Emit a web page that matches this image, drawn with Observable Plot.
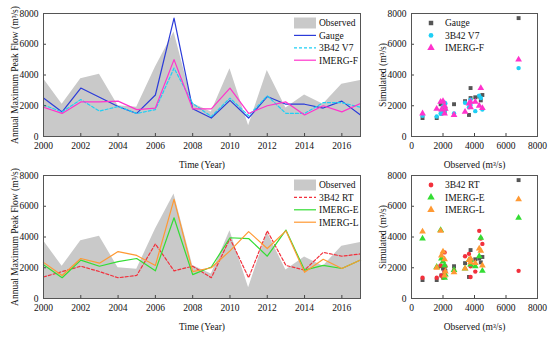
<!DOCTYPE html>
<html><head><meta charset="utf-8">
<script src="https://cdn.jsdelivr.net/npm/d3@7"></script>
<script src="https://cdn.jsdelivr.net/npm/@observablehq/plot@0.6"></script>
<style>
body{margin:0;background:#fff;}
#wrap{position:relative;width:550px;height:343px;font-family:"Liberation Serif",serif;overflow:hidden;}
.panel{position:absolute;}
.legend{position:absolute;overflow:visible;}
</style></head><body><div id="wrap"></div>
<script>
// ---- data ----
const years    = [2000,2001,2002,2003,2004,2005,2006,2007,2008,2009,2010,2011,2012,2013,2014,2015,2016,2017];
const observed = [3750,2100,3750,4050,2000,1900,4500,6800,2150,1600,4400,700,4300,1850,2700,2100,3400,3650];
const gauge    = [2500,1600,3150,2550,1950,1500,2700,7700,1800,1200,2350,1200,2600,2100,2100,1850,2300,1400];
const v7       = [2050,1600,2400,1650,1950,1500,1750,4450,2150,1300,2500,1350,2650,1500,1500,2200,2200,1900];
const imergF   = [1900,1500,2250,2250,2300,1750,1850,5000,1800,1800,3150,1500,2000,2250,1400,2000,1600,2150];
const rt       = [1400,1750,2100,1750,1350,1500,3550,1800,2100,1350,3900,1350,4400,2150,1850,3000,2750,2900];
const imergE   = [2200,1350,2500,2100,2400,2600,1800,5250,1550,2050,3950,3900,2750,4450,1850,2150,1950,2500];
const imergL   = [2350,1500,2600,2300,3050,2800,2150,6450,1750,2000,3100,4350,3250,4400,1700,2550,1950,2500];

const yearTicks = [2000,2002,2004,2006,2008,2010,2012,2014,2016];
const flowTicks = [0,2000,4000,6000,8000];

const topSeries = [
  {name:"Gauge",   values:gauge,  color:"#2b3bd9", dash:null,  symbol:"square",   mcolor:"#555555"},
  {name:"3B42 V7", values:v7,     color:"#1fcff5", dash:"3,2", symbol:"circle",   mcolor:"#1fcff5"},
  {name:"IMERG-F", values:imergF, color:"#ff33cc", dash:null,  symbol:"triangle", mcolor:"#ff33cc"}
];
const botSeries = [
  {name:"3B42 RT", values:rt,     color:"#f2303c", dash:"3,2", symbol:"circle",   mcolor:"#f2303c"},
  {name:"IMERG-E", values:imergE, color:"#33dd33", dash:null,  symbol:"triangle", mcolor:"#33dd33"},
  {name:"IMERG-L", values:imergL, color:"#ff9933", dash:null,  symbol:"triangle", mcolor:"#ff9933"}
];

const FONT = "Liberation Serif";
const FS = "9.5px";
const TXT = "#111";
const wrap = document.getElementById("wrap");

function place(el, left, top) {
  const d = document.createElement("div");
  d.className = "panel";
  d.style.left = left + "px";
  d.style.top = top + "px";
  d.appendChild(el);
  wrap.appendChild(d);
}

const W1 = 365, H = 170, mL1 = 43, mR1 = 5, mT = 13, mB = 34;
const W2 = 185, mL2 = 46, mR2 = 13;

function linePanel(series) {
  const pw = W1 - mL1 - mR1, ph = H - mT - mB;
  const obs = years.map((y,i)=>({year:y, v:observed[i]}));
  const marks = [
    Plot.areaY(obs, {x:"year", y:"v", fill:"#c9c9c9"}),
    ...series.map(s => Plot.lineY(years.map((y,i)=>({year:y, v:s.values[i]})),
        {x:"year", y:"v", stroke:s.color, strokeWidth:1.2, strokeDasharray:s.dash ?? undefined})),
    Plot.tickX(yearTicks, {x:d=>d, insetTop:ph-3, stroke:"#444"}),
    Plot.tickY(flowTicks, {y:d=>d, insetRight:pw-3, stroke:"#444"}),
    Plot.frame({stroke:"#555"}),
    Plot.axisX({ticks:yearTicks, tickSize:0, tickPadding:6, tickFormat:d=>String(d),
      label:"Time (Year)", labelAnchor:"center", labelOffset:31, labelArrow:false}),
    Plot.axisY({ticks:flowTicks, tickSize:0, tickPadding:5, tickFormat:d=>String(d),
      label:"Annual Maximum Peak Flow (m³/s)", labelAnchor:"center", labelOffset:32, labelArrow:false})
  ];
  return Plot.plot({
    width:W1, height:H, marginLeft:mL1, marginRight:mR1, marginTop:mT, marginBottom:mB,
    x:{domain:[2000,2017]}, y:{domain:[0,8000]},
    style:{fontFamily:FONT, fontSize:FS, color:TXT, background:"transparent"},
    marks
  });
}

function scatterPanel(series) {
  const pw = W2 - mL2 - mR2, ph = H - mT - mB;
  const marks = [
    Plot.tickX(flowTicks, {x:d=>d, insetTop:ph-3, stroke:"#444"}),
    Plot.tickY(flowTicks, {y:d=>d, insetRight:pw-3, stroke:"#444"}),
    ...series.map(s => Plot.dot(observed.map((o,i)=>({o, v:s.values[i]})),
        {x:"o", y:"v", symbol:()=>s.symbol, r:s.symbol==="triangle"?2.5:2.2, fill:s.mcolor, stroke:"none"})),
    Plot.frame({stroke:"#555"}),
    Plot.axisX({ticks:flowTicks, tickSize:0, tickPadding:6, tickFormat:d=>String(d),
      label:"Observed (m³/s)", labelAnchor:"center", labelOffset:31, labelArrow:false}),
    Plot.axisY({ticks:flowTicks, tickSize:0, tickPadding:5, tickFormat:d=>String(d),
      label:"Simulated (m³/s)", labelAnchor:"center", labelOffset:32, labelArrow:false})
  ];
  return Plot.plot({
    width:W2, height:H, marginLeft:mL2, marginRight:mR2, marginTop:mT, marginBottom:mB,
    x:{domain:[0,8000]}, y:{domain:[0,8000]},
    symbol:{type:"identity"},
    style:{fontFamily:FONT, fontSize:FS, color:TXT, background:"transparent"},
    marks
  });
}

function lineLegend(series, left, top) {
  const rowH = 12.4;
  const svg = d3.create("svg").attr("class","legend")
    .attr("width", 70).attr("height", rowH*4+4)
    .style("left", left+"px").style("top", top+"px")
    .style("font-family", FONT).style("font-size",FS);
  svg.append("rect").attr("x",0).attr("y",0.5).attr("width",22).attr("height",11).attr("fill","#c9c9c9");
  svg.append("text").attr("x",25).attr("y",6).attr("dy","0.35em").attr("fill",TXT).text("Observed");
  series.forEach((s,i)=>{
    const y = 6 + rowH*(i+1);
    svg.append("line").attr("x1",0).attr("x2",22).attr("y1",y).attr("y2",y)
      .attr("stroke",s.color).attr("stroke-width",1.2).attr("stroke-dasharray",s.dash);
    svg.append("text").attr("x",25).attr("y",y).attr("dy","0.35em").attr("fill",TXT).text(s.name);
  });
  wrap.appendChild(svg.node());
}

function scatterLegend(series, left, top) {
  const rowH = 12.4;
  const svg = d3.create("svg").attr("class","legend")
    .attr("width", 70).attr("height", rowH*3+4)
    .style("left", left+"px").style("top", top+"px")
    .style("font-family", FONT).style("font-size",FS);
  series.forEach((s,i)=>{
    const y = 6 + rowH*i;
    const sym = s.symbol==="square" ? d3.symbolSquare : s.symbol==="circle" ? d3.symbolCircle : d3.symbolTriangle;
    const size = s.symbol==="triangle" ? 24 : s.symbol==="square" ? 20 : 18;
    svg.append("path").attr("transform",`translate(6,${y})`).attr("d", d3.symbol(sym, size)()).attr("fill", s.mcolor);
    svg.append("text").attr("x",20).attr("y",y).attr("dy","0.35em").attr("fill",TXT).text(s.name);
  });
  wrap.appendChild(svg.node());
}

const BT = 162;
place(linePanel(topSeries), 0, 0);
place(scatterPanel(topSeries), W1, 0);
place(linePanel(botSeries), 0, BT);
place(scatterPanel([{...topSeries[0]}, ...botSeries]), W1, BT);

lineLegend(topSeries, 294, 17);
lineLegend(botSeries, 294, BT + 17);
scatterLegend(topSeries, 425, 17);
scatterLegend(botSeries, 425, BT + 17);
</script></body></html>
